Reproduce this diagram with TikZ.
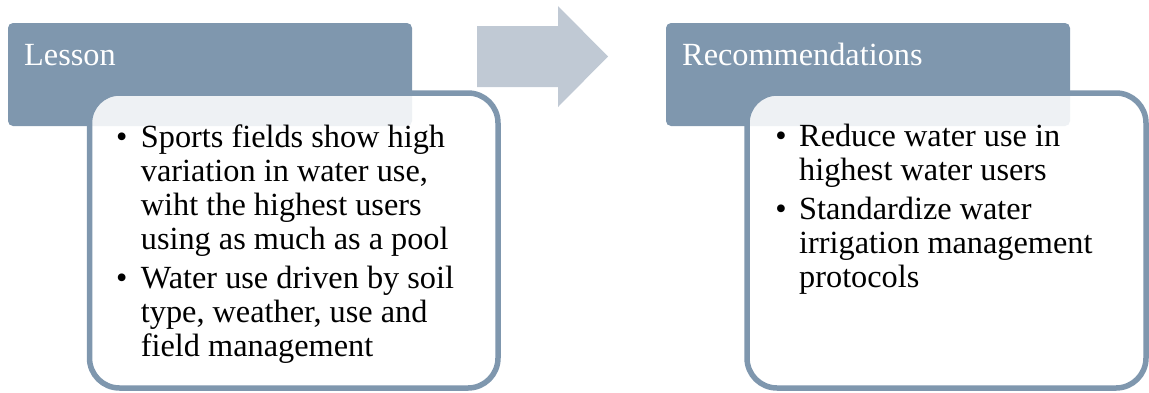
\documentclass[tikz,border=0pt]{standalone}
\usepackage{fontspec}
\setmainfont{Liberation Serif}
\definecolor{slate}{HTML}{7F97AE}
\definecolor{arrowgray}{HTML}{C0C9D4}
\newcommand{\panelfont}{\fontsize{32.3}{34}\selectfont}
\begin{document}
\begin{tikzpicture}[x=1pt,y=-1pt,
  header/.style={fill=slate, rounded corners=5pt},
  body/.style={draw=slate, line width=5.5pt, fill=white, fill opacity=0.87, rounded corners=30pt},
  title/.style={anchor=base west, inner sep=0pt, text=white, font=\panelfont},
  line/.style={anchor=base west, inner sep=0pt, text=black, font=\panelfont},
  dot/.style={anchor=base, inner sep=0pt, text=black, font=\panelfont}]
\useasboundingbox (0,0) rectangle (1149,392);

% process arrow between the two panels
\fill[arrowgray] (477,26) -- (558,26) -- (558,6) -- (608,56.5) -- (558,107) -- (558,87) -- (477,87) -- cycle;

% left panel
\fill[header] (8,23) rectangle (412,126);
\node[title] (lessonT) at (24,65) {Lesson};
\path[body] (89.5,93) rectangle (498,388);
\node[dot] (lb1) at (121.7,147) {•};
\node[line] (l1) at (140.7,147) {Sports fields show high};
\node[line] (l2) at (140.7,181) {variation in water use,};
\node[line] (l3) at (140.7,215) {wiht the highest users};
\node[line] (l4) at (140.7,249) {using as much as a pool};
\node[dot] (lb2) at (121.7,288) {•};
\node[line] (l5) at (140.7,288) {Water use driven by soil};
\node[line] (l6) at (140.7,322) {type, weather, use and};
\node[line] (l7) at (140.7,356) {field management};

% right panel
\fill[header] (666,23) rectangle (1070,126);
\node[title] (recT) at (682,65) {Recommendations};
\path[body] (747,93) rectangle (1146,388);
\node[dot] (rb1) at (781,146) {•};
\node[line] (r1) at (799,146) {Reduce water use in};
\node[line] (r2) at (799,180) {highest water users};
\node[dot] (rb2) at (781,219) {•};
\node[line] (r3) at (799,219) {Standardize water};
\node[line] (r4) at (799,253) {irrigation management};
\node[line] (r5) at (799,287) {protocols};
\end{tikzpicture}
\end{document}
